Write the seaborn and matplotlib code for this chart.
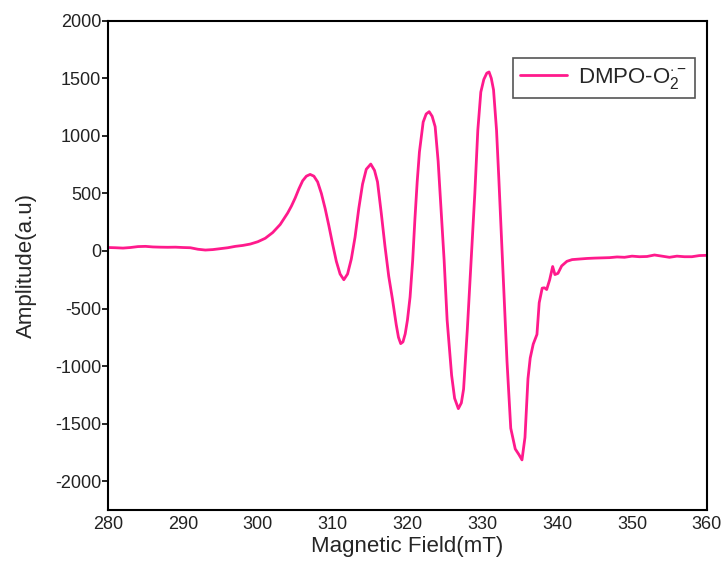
import numpy as np
import pandas as pd
import seaborn as sns
import matplotlib.pyplot as plt

# magnetic field (mT) and amplitude
field = [280, 281, 282, 283, 284, 285, 286, 287, 288, 289,
         290, 291, 292, 293, 294, 295, 296, 297, 298, 299,
         300, 301, 302, 303, 303.5, 304, 304.5, 305, 305.5, 306,
         306.5, 307, 307.5, 308, 308.5, 309, 309.5, 310, 310.5, 311,
         311.5, 312, 312.5, 313, 313.5, 314, 314.5, 315.1, 315.6, 316,
         316.5, 317, 317.5, 318, 318.5, 318.8, 319.1, 319.4, 319.7, 320, 320.35, 320.7, 321,
         321.3, 321.6, 322.1, 322.5, 322.9, 323.3, 323.7, 324.1, 324.5, 324.9, 325.3,
         325.9, 326.3, 326.8, 327.2, 327.5, 328, 328.5, 329, 329.4, 329.8,
         330.2, 330.6, 330.9, 331.2, 331.5, 331.9, 332.2, 332.5, 332.9, 333.3,
         333.8, 334.4, 334.9, 335.3, 335.7, 336.1, 336.4, 336.8, 337.3, 337.6,
         338.0, 338.3, 338.6, 339.0, 339.4, 339.7, 340.1, 340.6, 341.3, 342,
         343, 344, 345, 346, 347, 348, 349, 350, 351, 352,
         353, 354, 355, 356, 357, 358, 359, 360]
amplitude = [30, 28, 25, 30, 38, 40, 35, 33, 32, 33,
             30, 28, 15, 8, 12, 20, 28, 40, 48, 60,
             80, 110, 160, 230, 280, 330, 390, 460, 540, 610,
             650, 665, 650, 600, 500, 370, 220, 60, -90, -200,
             -250, -200, -70, 120, 370, 580, 710, 755, 700, 600,
             330, 40, -220, -420, -640, -750, -805, -790, -720, -600, -400, -80, 280,
             600, 860, 1120, 1190, 1210, 1170, 1080, 780, 350, -80, -600,
             -1080, -1280, -1370, -1320, -1200, -680, -90, 500, 1050, 1380,
             1490, 1545, 1555, 1500, 1400, 1050, 640, 200, -375, -960,
             -1540, -1720, -1770, -1815, -1620, -1110, -930, -810, -725, -450,
             -323, -320, -335, -250, -135, -205, -195, -130, -90, -75,
             -70, -65, -62, -60, -58, -52, -55, -45, -50, -48,
             -35, -45, -55, -45, -50, -50, -40, -38]

x_ticks = [280, 290, 300, 310, 320, 330, 340, 350, 360]
y_ticks = [-2000, -1500, -1000, -500, 0, 500, 1000, 1500, 2000]

sns.set_style("white")
plt.rcParams['font.family'] = ['Liberation Sans', 'DejaVu Sans']
plt.rcParams['mathtext.fontset'] = 'custom'
plt.rcParams['mathtext.rm'] = 'Liberation Sans'
plt.rcParams['mathtext.it'] = 'Liberation Sans'
plt.rcParams['axes.unicode_minus'] = False

df = pd.DataFrame({'field': field, 'amp': amplitude})

fig = plt.figure(figsize=(7.25, 5.61), dpi=100)
ax = fig.add_axes([0.149, 0.091, 0.826, 0.872])
sns.lineplot(data=df, x='field', y='amp', ax=ax, color='#FF1A8C', lw=2,
             label=r'DMPO-O$_2^{\cdot -}$')

ax.set_xlim(280, 360)
ax.set_ylim(-2250, 2000)
ax.set_xticks(x_ticks)
ax.set_yticks(y_ticks)
ax.tick_params(axis='both', labelsize=13, labelcolor='#222222', pad=1)
ax.tick_params(axis='y', left=True, direction='out', length=4, width=1.2,
               color='black')
ax.tick_params(axis='x', bottom=False, pad=1)
for s in ax.spines.values():
    s.set_color('black')
    s.set_linewidth(1.5)

ax.set_xlabel('Magnetic Field(mT)', fontsize=16, labelpad=2)
ax.set_ylabel('Amplitude(a.u)', fontsize=16, labelpad=13)

leg = ax.legend(loc='upper right', bbox_to_anchor=(0.98, 0.924), fontsize=16,
                fancybox=False, framealpha=1, handlelength=2.1, borderpad=0.35,
                borderaxespad=0, handletextpad=0.5)
leg.get_frame().set_edgecolor('#555555')
leg.get_frame().set_linewidth(1.2)

fig.savefig('out.png', dpi=100)
